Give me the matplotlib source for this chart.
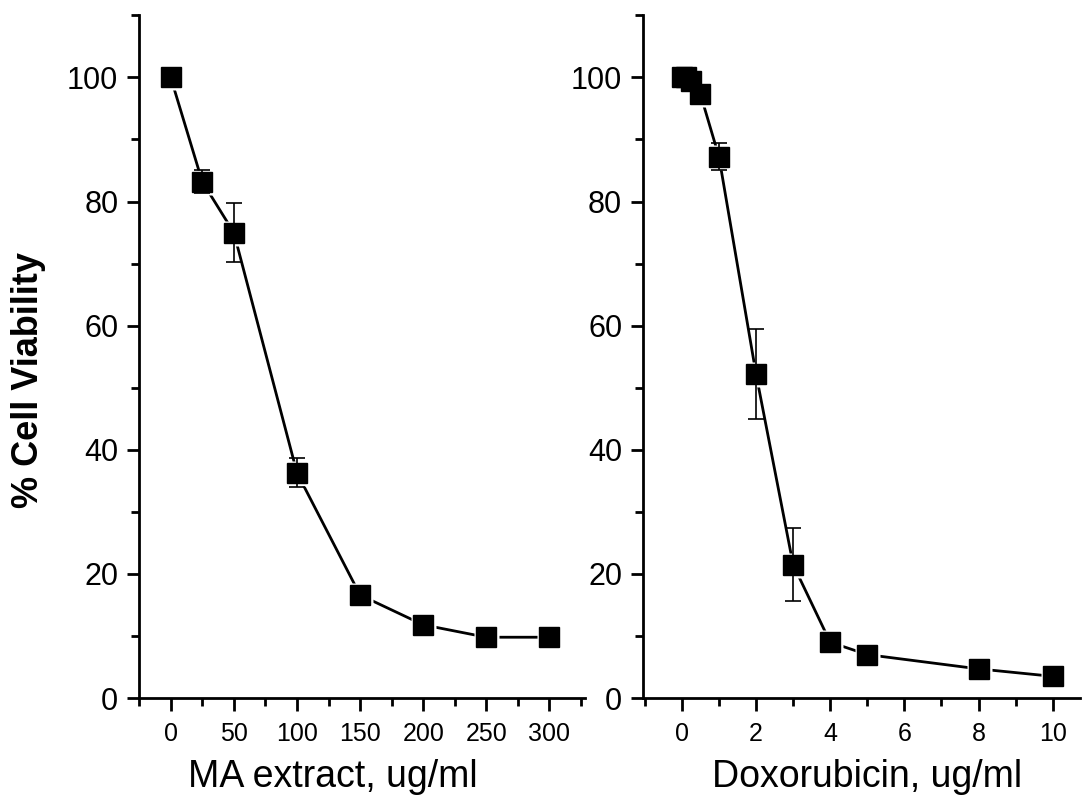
import matplotlib.pyplot as plt
from matplotlib.ticker import MultipleLocator

plt.rcParams['font.family'] = ['Liberation Sans', 'DejaVu Sans']

# MA extract panel
ma_dose = [0, 25, 50, 100, 150, 200, 250, 300]
ma_viab = [100, 83.2, 75.0, 36.3, 16.6, 11.8, 9.8, 9.8]
ma_err = [0.5, 1.8, 4.8, 2.3, 0.6, 0.6, 0.5, 0.5]

# Doxorubicin panel
dox_dose = [0, 0.1, 0.25, 0.5, 1, 2, 3, 4, 5, 8, 10]
dox_viab = [100, 100, 99.5, 97.3, 87.2, 52.2, 21.5, 9.0, 7.0, 4.7, 3.5]
dox_err = [0.5, 0.5, 0.8, 0.8, 2.2, 7.2, 5.9, 0.5, 0.5, 0.5, 0.5]

fig = plt.figure(figsize=(10.87, 8.07), dpi=100)
ax1 = fig.add_axes([0.128, 0.135, 0.410, 0.846])
ax2 = fig.add_axes([0.5915, 0.135, 0.4025, 0.846])


def style(ax, major, minor, xlim):
    for s in ['top', 'right']:
        ax.spines[s].set_visible(False)
    for s in ['left', 'bottom']:
        ax.spines[s].set_linewidth(2)
    ax.set_ylim(0, 110)
    ax.set_xlim(*xlim)
    ax.yaxis.set_major_locator(MultipleLocator(20))
    ax.yaxis.set_minor_locator(MultipleLocator(10))
    ax.xaxis.set_major_locator(MultipleLocator(major))
    ax.xaxis.set_minor_locator(MultipleLocator(minor))
    ax.tick_params(axis='both', which='major', direction='out', length=9, width=2)
    ax.tick_params(axis='both', which='minor', direction='out', length=6, width=2)
    ax.tick_params(axis='y', labelsize=22, pad=6)
    ax.tick_params(axis='x', labelsize=18, pad=8)


for ax, x, y, e in [(ax1, ma_dose, ma_viab, ma_err), (ax2, dox_dose, dox_viab, dox_err)]:
    ax.plot(x, y, color='black', lw=2, zorder=1)
    # white halo gives the line a gap in front of each marker
    ax.plot(x, y, ls='none', marker='s', markersize=18, markerfacecolor='white',
            markeredgecolor='none', zorder=2)
    ax.errorbar(x, y, yerr=e, fmt='none', ecolor='black', elinewidth=1.2,
                capsize=6, capthick=1.2, zorder=2.5)
    ax.plot(x, y, ls='none', marker='s', markersize=14, markerfacecolor='black',
            markeredgecolor='black', zorder=3)

style(ax1, 50, 25, (-25, 328))
style(ax2, 2, 1, (-1.05, 10.75))

ax1.set_xlabel('MA extract, ug/ml', fontsize=27)
ax2.set_xlabel('Doxorubicin, ug/ml', fontsize=27)
ax1.set_ylabel('% Cell Viability', fontsize=26, fontweight='bold')
ax1.xaxis.set_label_coords(0.435, -0.089)
ax2.xaxis.set_label_coords(0.513, -0.089)
ax1.yaxis.set_label_coords(-0.208, 0.466)

fig.savefig('out.png', dpi=100)
